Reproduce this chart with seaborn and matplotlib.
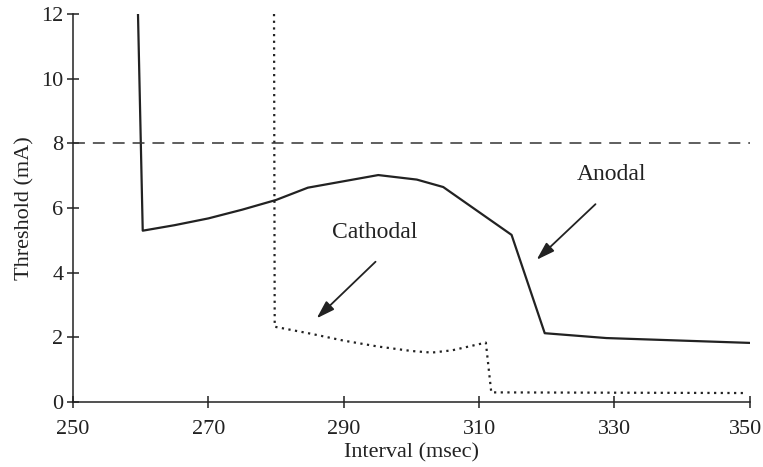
import matplotlib
matplotlib.use("Agg")
import matplotlib.pyplot as plt
import matplotlib.transforms as mtransforms
import seaborn as sns
import pandas as pd

# Threshold vs. coupling interval for anodal and cathodal stimulation
anodal_interval = [259.6, 260.3, 265, 270, 275, 280, 284.7, 295.1, 300.8, 304.7, 314.8, 319.7, 328.8, 350]
anodal_threshold = [12.0, 5.3, 5.47, 5.68, 5.95, 6.25, 6.63, 7.02, 6.88, 6.65, 5.17, 2.13, 1.98, 1.83]

cathodal_interval = [279.7, 279.8, 285, 290, 295, 300, 303, 306, 311, 311.8, 349]
cathodal_threshold = [12.0, 2.33, 2.12, 1.9, 1.72, 1.58, 1.53, 1.6, 1.84, 0.3, 0.28]

reference_level = 8
x_ticks = [250, 270, 290, 310, 330, 350]
y_ticks = [0, 2, 4, 6, 8, 10, 12]

sns.set_style("ticks")
plt.rcParams["font.family"] = ["Liberation Serif", "DejaVu Serif"]
ink = "#222222"
fs = 16

fig = plt.figure(figsize=(7.63, 4.67), dpi=100)
ax = fig.add_axes([0.0957, 0.139, 0.887, 0.831])

anodal = pd.DataFrame({"interval": anodal_interval, "threshold": anodal_threshold})
cathodal = pd.DataFrame({"interval": cathodal_interval, "threshold": cathodal_threshold})

sns.lineplot(data=anodal, x="interval", y="threshold", ax=ax, color=ink,
             lw=1.6, sort=False, estimator=None)
sns.lineplot(data=cathodal, x="interval", y="threshold", ax=ax, color=ink,
             lw=1.6, sort=False, estimator=None, linestyle=(0, (1, 2)))
ax.axhline(reference_level, color="#333333", lw=1.1, linestyle=(0, (7.8, 5.2)))

ax.set_xlim(250, 350)
ax.set_ylim(0, 12)
ax.set_xticks(x_ticks)
ax.set_yticks(y_ticks)
ax.set_xlabel("Interval (msec)", fontsize=fs, color=ink, labelpad=3)
ax.set_ylabel("Threshold (mA)", fontsize=fs, color=ink, labelpad=5)
ax.tick_params(direction="inout", length=8, width=1.1, colors=ink, labelsize=fs)
ax.tick_params(axis="x", pad=9)
ax.tick_params(axis="y", pad=3)
for side in ("top", "right"):
    ax.spines[side].set_visible(False)
for side in ("left", "bottom"):
    ax.spines[side].set_color(ink)
    ax.spines[side].set_linewidth(1.1)

# keep the last x tick label inside the figure
last = ax.get_xticklabels()[-1]
last.set_transform(last.get_transform() +
                   mtransforms.ScaledTranslation(-4 / 100, 0, fig.dpi_scale_trans))

arrow = dict(arrowstyle="-|>,head_length=1.1,head_width=0.35", color=ink, lw=1.3,
             shrinkA=0, shrinkB=0)
ax.annotate("", xy=(286.0, 2.59), xytext=(294.7, 4.34), arrowprops=arrow)
ax.text(294.6, 5.23, "Cathodal", ha="center", va="center", fontsize=17, color=ink)
ax.annotate("", xy=(318.5, 4.40), xytext=(327.2, 6.12), arrowprops=arrow)
ax.text(329.6, 7.03, "Anodal", ha="center", va="center", fontsize=17, color=ink)

fig.savefig("out.png", dpi=100)
